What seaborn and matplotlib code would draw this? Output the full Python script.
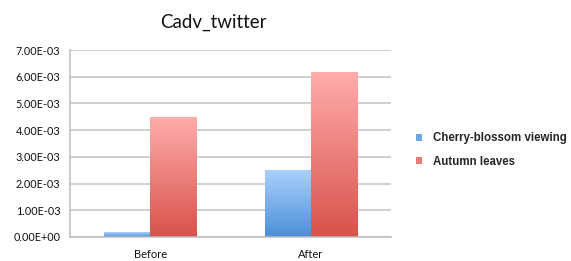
import numpy as np
import pandas as pd
import matplotlib
matplotlib.use("Agg")
import matplotlib.pyplot as plt
import seaborn as sns
from matplotlib.colors import LinearSegmentedColormap
from matplotlib.patches import Patch

# ── Données ───────────────────────────────────────────────────
periods = ["Before", "After"]
series = ["Cherry-blossom viewing", "Autumn leaves"]
cherry = [0.00018, 0.00248]
autumn = [0.00448, 0.00616]
y_ticks = [0, 0.001, 0.002, 0.003, 0.004, 0.005, 0.006, 0.007]
y_labels = ["0.00E+00", "1.00E-03", "2.00E-03", "3.00E-03",
            "4.00E-03", "5.00E-03", "6.00E-03", "7.00E-03"]

df = pd.DataFrame({
    "period": periods * 2,
    "series": [series[0]] * 2 + [series[1]] * 2,
    "value": cherry + autumn,
})

grads = {
    series[0]: ("#4a8fd9", "#abd0fc"),
    series[1]: ("#d8524a", "#ffadac"),
}
legend_cols = {series[0]: "#6ea6ea", series[1]: "#ee7b78"}

sns.set_style("white")
plt.rcParams["font.family"] = ["Lato", "DejaVu Sans"]

fig = plt.figure(figsize=(5.71, 2.61), dpi=100)
ax = fig.add_axes([0.1226, 0.092, 0.5622, 0.7164])

sns.barplot(data=df, x="period", y="value", hue="series",
            hue_order=series, order=periods, width=0.575,
            palette=legend_cols, legend=False, ax=ax)

# dégradé vertical sur chaque barre
for i, p in enumerate(ax.patches):
    s = series[i // len(periods)]
    cmap = LinearSegmentedColormap.from_list(s, grads[s])
    x0, y0 = p.get_x(), p.get_y()
    w, h = p.get_width(), p.get_height()
    grad = np.linspace(0, 1, 256).reshape(-1, 1)
    ax.imshow(grad, cmap=cmap, origin="lower", aspect="auto",
              extent=[x0, x0 + w, y0, y0 + h], zorder=2)
    p.set_visible(False)

ax.set_xlim(-0.5, 1.5)
ax.set_ylim(0, 0.007)

ax.set_yticks(y_ticks)
ax.set_yticklabels(y_labels)
ax.yaxis.grid(True, color="#c4c4c4", linewidth=1.1)
ax.set_axisbelow(True)
ax.tick_params(axis="y", labelsize=7.8, pad=7, length=0, labelcolor="#111111")
ax.tick_params(axis="x", labelsize=8, pad=9, length=0, labelcolor="#111111")
ax.set_xlabel("")
ax.set_ylabel("")

for side in ["top", "right"]:
    ax.spines[side].set_visible(False)
for side in ["left", "bottom"]:
    ax.spines[side].set_color("#bdbdbd")
    ax.spines[side].set_linewidth(1.1)

fig.text(0.374, 0.915, "Cadv_twitter", ha="center", va="center",
         fontsize=13.5, color="#111111")

handles = [Patch(facecolor=legend_cols[s], edgecolor="none", label=s) for s in series]
fig.legend(handles=handles, loc="center left", bbox_to_anchor=(0.71, 0.425),
           frameon=False, handlelength=0.55, handleheight=0.55,
           handletextpad=0.9, labelspacing=1.0,
           prop={"family": "Liberation Sans", "weight": "bold", "size": 8.3})

fig.savefig("out.png", dpi=100)
plt.close(fig)
